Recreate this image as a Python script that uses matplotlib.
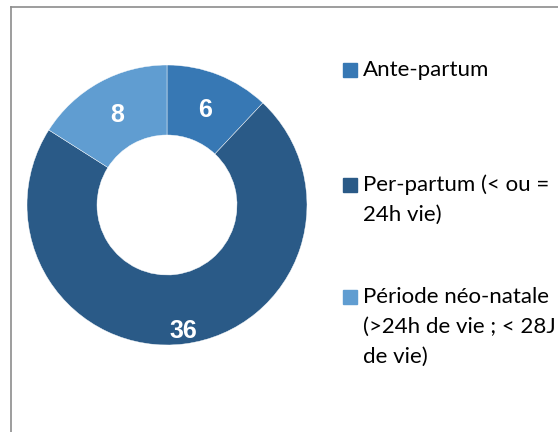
import numpy as np
import matplotlib.pyplot as plt
from matplotlib.lines import Line2D
from matplotlib.patches import Rectangle

categories = ['Ante-partum', 'Per-partum (< ou =\n24h vie)', 'Période néo-natale\n(>24h de vie ; < 28J\nde vie)']
values = [6, 36, 8]
colors = ['#3778b4', '#2a5a87', '#609dd1']
label_dist = [0.73, 0.91, 0.735]

W, H = 558, 432
fig = plt.figure(figsize=(W / 100, H / 100), dpi=100)

# chart frame (right and bottom edges fall outside the crop)
fig.add_artist(Line2D([10.5 / W, 10.5 / W], [0, 1 - 7 / H], color='#8c8c8c', lw=1.2))
fig.add_artist(Line2D([10.5 / W, 1], [1 - 7 / H, 1 - 7 / H], color='#8c8c8c', lw=1.2))

# donut
cx, cy, r = 167, 205, 140
ax = fig.add_axes([(cx - r) / W, (H - cy - r) / H, 2 * r / W, 2 * r / H])
wedges, _ = ax.pie(values, colors=colors, startangle=90, counterclock=False,
                   radius=1, wedgeprops=dict(width=0.5, edgecolor='white', linewidth=0.3))
ax.set_xlim(-1, 1)
ax.set_ylim(-1, 1)

for w, v, d in zip(wedges, values, label_dist):
    mid = np.deg2rad((w.theta1 + w.theta2) / 2)
    ax.text(d * np.cos(mid), d * np.sin(mid), str(v), ha='center', va='center',
            color='white', fontsize=18, fontweight='bold', family='Liberation Sans')

# legend, one text per wrapped line
ys = [70, 185, 297]
for y, lab, c in zip(ys, categories, colors):
    fig.add_artist(Rectangle((343 / W, 1 - (y + 7) / H), 14 / W, 14 / H,
                             transform=fig.transFigure, color=c))
    for i, line in enumerate(lab.split('\n')):
        fig.text(363 / W, 1 - (y + 30 * i) / H, line, ha='left', va='center',
                 fontsize=16, family='Lato', color='black')

fig.savefig('out.png', dpi=100)
